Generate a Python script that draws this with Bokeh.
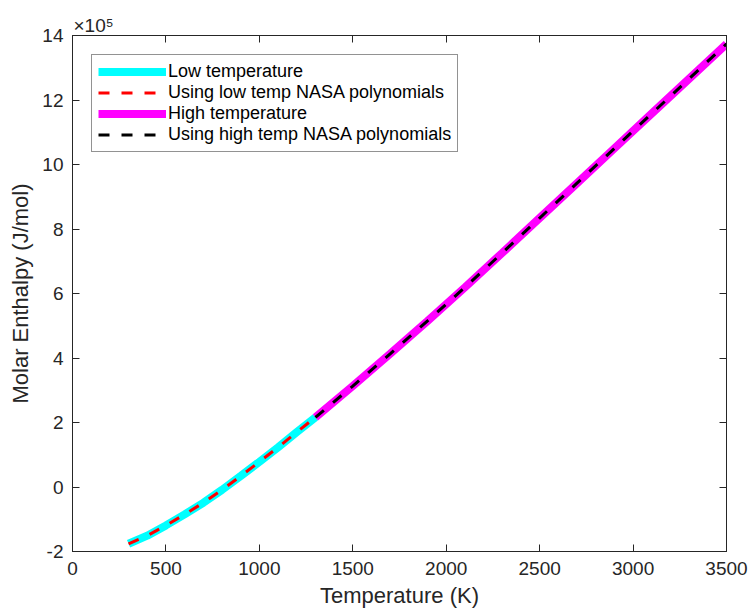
from bokeh.plotting import figure
from bokeh.models import Range1d, LinearAxis, FixedTicker, CustomJSTickFormatter
from bokeh.embed import file_html
from bokeh.resources import INLINE

# ---- data ----
temp_low = [300, 400, 500, 600, 700, 800, 900, 1000, 1100, 1200, 1300]
h_low = [-1.76e5, -1.51e5, -1.19e5, -0.85e5, -0.49e5, -0.09e5, 0.34e5, 0.78e5, 1.23e5, 1.70e5, 2.16e5]
temp_high = [1300, 1500, 1700, 1900, 2100, 2300, 2500, 2700, 2900, 3100, 3300, 3500]
h_high = [2.16e5, 3.13e5, 4.13e5, 5.15e5, 6.19e5, 7.26e5, 8.34e5, 9.42e5, 10.50e5, 11.58e5, 12.66e5, 13.74e5]
# NASA polynomial fits (overlay the tabulated data)
h_low_nasa = h_low
h_high_nasa = h_high

x_ticks = [0, 500, 1000, 1500, 2000, 2500, 3000, 3500]
y_ticks = [-2e5, 0, 2e5, 4e5, 6e5, 8e5, 10e5, 12e5, 14e5]
series_labels = ["Low temperature", "Using low temp NASA polynomials",
                 "High temperature", "Using high temp NASA polynomials"]
x_label = "Temperature (K)"
y_label = "Molar Enthalpy (J/mol)"
exponent_label = "×10⁵"

FONT = "Liberation Sans"
AX = "#262626"

p = figure(width=750, height=613, output_backend="svg", toolbar_location=None,
           x_range=Range1d(0, 3500), y_range=Range1d(-2e5, 14e5),
           min_border_left=72, min_border_right=24, min_border_top=35, min_border_bottom=62,
           background_fill_color="white", border_fill_color="white")
p.grid.visible = False
p.outline_line_color = AX
p.outline_line_width = 1

p.line(temp_low, h_low, line_color="#00FFFF", line_width=8, legend_label=series_labels[0])
p.line(temp_low, h_low_nasa, line_color="#FF0000", line_width=3, line_dash="11 12",
       legend_label=series_labels[1])
p.line(temp_high, h_high, line_color="#FF00FF", line_width=8, legend_label=series_labels[2])
p.line(temp_high, h_high_nasa, line_color="#000000", line_width=3, line_dash="11 12",
       legend_label=series_labels[3])

def style_axis(ax, label_size="19px"):
    ax.axis_line_color = AX
    ax.axis_line_width = 1
    ax.major_tick_line_color = AX
    ax.major_tick_in = 7
    ax.major_tick_out = 0
    ax.minor_tick_in = 0
    ax.minor_tick_out = 0
    ax.major_label_text_font = FONT
    ax.major_label_text_font_size = label_size
    ax.major_label_text_color = AX
    ax.axis_label_text_font = FONT
    ax.axis_label_text_font_size = "22px"
    ax.axis_label_text_font_style = "normal"
    ax.axis_label_text_color = AX

xa = p.xaxis[0]
ya = p.yaxis[0]
xa.ticker = FixedTicker(ticks=x_ticks)
ya.ticker = FixedTicker(ticks=y_ticks)
ya.formatter = CustomJSTickFormatter(code="return (tick/1e5).toFixed(0);")
style_axis(xa)
style_axis(ya)
xa.axis_label = x_label
ya.axis_label = y_label
xa.major_label_standoff = 10
ya.major_label_standoff = 9
xa.axis_label_standoff = 5
ya.axis_label_standoff = 6

blank = "return '';"
top = LinearAxis(ticker=FixedTicker(ticks=x_ticks), formatter=CustomJSTickFormatter(code=blank))
right = LinearAxis(ticker=FixedTicker(ticks=y_ticks), formatter=CustomJSTickFormatter(code=blank))
for a in (top, right):
    style_axis(a, "1px")
    a.major_label_standoff = 0
p.add_layout(top, "above")
p.add_layout(right, "right")

# exponent label (x10^5) drawn as the title, aligned to the left of the frame
p.title.text = exponent_label
p.title.align = "left"
p.title.offset = 1
p.title.standoff = 0
p.title.text_font = FONT
p.title.text_font_size = "19px"
p.title.text_font_style = "normal"
p.title.text_color = AX

lg = p.legend[0]
lg.location = "top_left"
lg.margin = 19
lg.padding = 6
lg.spacing = 0
lg.glyph_width = 68
lg.glyph_height = 21
lg.label_height = 21
lg.label_standoff = 2
lg.label_text_font = FONT
lg.label_text_font_size = "18px"
lg.label_text_color = "#000000"
lg.border_line_color = AX
lg.border_line_width = 1
lg.background_fill_color = "white"
lg.background_fill_alpha = 1.0

open("out.html", "w").write(file_html(p, INLINE))
